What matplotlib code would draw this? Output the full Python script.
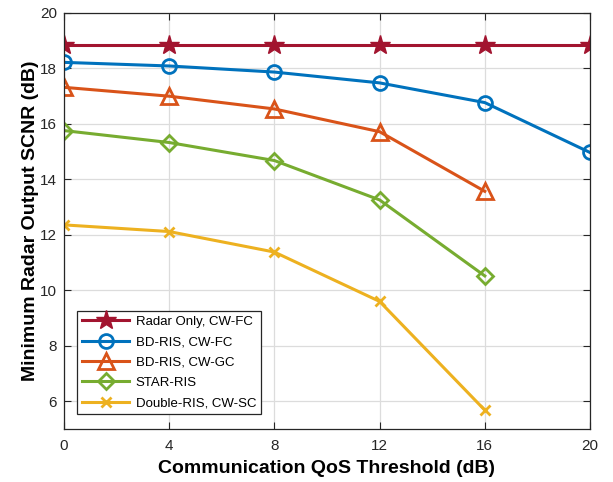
import matplotlib
matplotlib.use("Agg")
import matplotlib.pyplot as plt

plt.rcParams['font.family'] = ['Liberation Sans', 'DejaVu Sans']

qos = [0, 4, 8, 12, 16, 20]
qos_short = [0, 4, 8, 12, 16]

radar_only = [18.85, 18.85, 18.85, 18.85, 18.85, 18.85]
bd_ris_fc = [18.22, 18.09, 17.87, 17.48, 16.77, 14.97]
bd_ris_gc = [17.32, 17.00, 16.54, 15.72, 13.57]
star_ris = [15.76, 15.33, 14.68, 13.26, 10.52]
double_ris = [12.36, 12.12, 11.38, 9.60, 5.68]

labels = ["Radar Only, CW-FC", "BD-RIS, CW-FC", "BD-RIS, CW-GC",
          "STAR-RIS", "Double-RIS, CW-SC"]
colors = ["#A2142F", "#0072BD", "#D95319", "#77AC30", "#EDB120"]

fig = plt.figure(figsize=(6.13, 4.82), dpi=100)
left, right, top, bottom = 64 / 613, 590 / 613, 1 - 13 / 482, 1 - 429 / 482
ax = fig.add_axes([left, bottom, right - left, top - bottom])

common = dict(linewidth=2.2, markerfacecolor='none', markeredgewidth=2.0)
ax.plot(qos, radar_only, marker='*', markersize=15, color=colors[0],
        label=labels[0], linewidth=2.2, markerfacecolor=colors[0], markeredgewidth=1.0)
ax.plot(qos, bd_ris_fc, marker='o', markersize=10, color=colors[1], label=labels[1], **common)
ax.plot(qos_short, bd_ris_gc, marker='^', markersize=11, color=colors[2], label=labels[2], **common)
ax.plot(qos_short, star_ris, marker='D', markersize=8.5, color=colors[3], label=labels[3], **common)
ax.plot(qos_short, double_ris, marker='x', markersize=7.5, color=colors[4], label=labels[4], **common)

ax.set_xlim(0, 20)
ax.set_ylim(5, 20)
ax.set_xticks(qos)
ax.set_yticks(range(6, 21, 2))
ax.tick_params(direction='in', top=True, right=True, labelsize=11, length=5,
               width=0.8, colors='#262626')
ax.tick_params(axis='y', pad=5)
ax.tick_params(axis='x', pad=7)
ax.grid(True, color='#dcdcdc', linewidth=0.9)
ax.set_axisbelow(True)
for s in ax.spines.values():
    s.set_color('#262626')
    s.set_linewidth(0.9)

ax.set_xlabel("Communication QoS Threshold (dB)", fontsize=14, fontweight='bold', labelpad=5)
ax.set_ylabel("Minimum Radar Output SCNR (dB)", fontsize=14, fontweight='bold', labelpad=1)

leg = ax.legend(loc='lower left', bbox_to_anchor=(0.025, 0.036), fontsize=9.5,
                fancybox=False, framealpha=1, edgecolor='#262626',
                borderpad=0.35, labelspacing=0.62, handlelength=3.6,
                handletextpad=0.5, borderaxespad=0)
leg.get_frame().set_linewidth(0.9)

fig.savefig("out.png", dpi=100)
